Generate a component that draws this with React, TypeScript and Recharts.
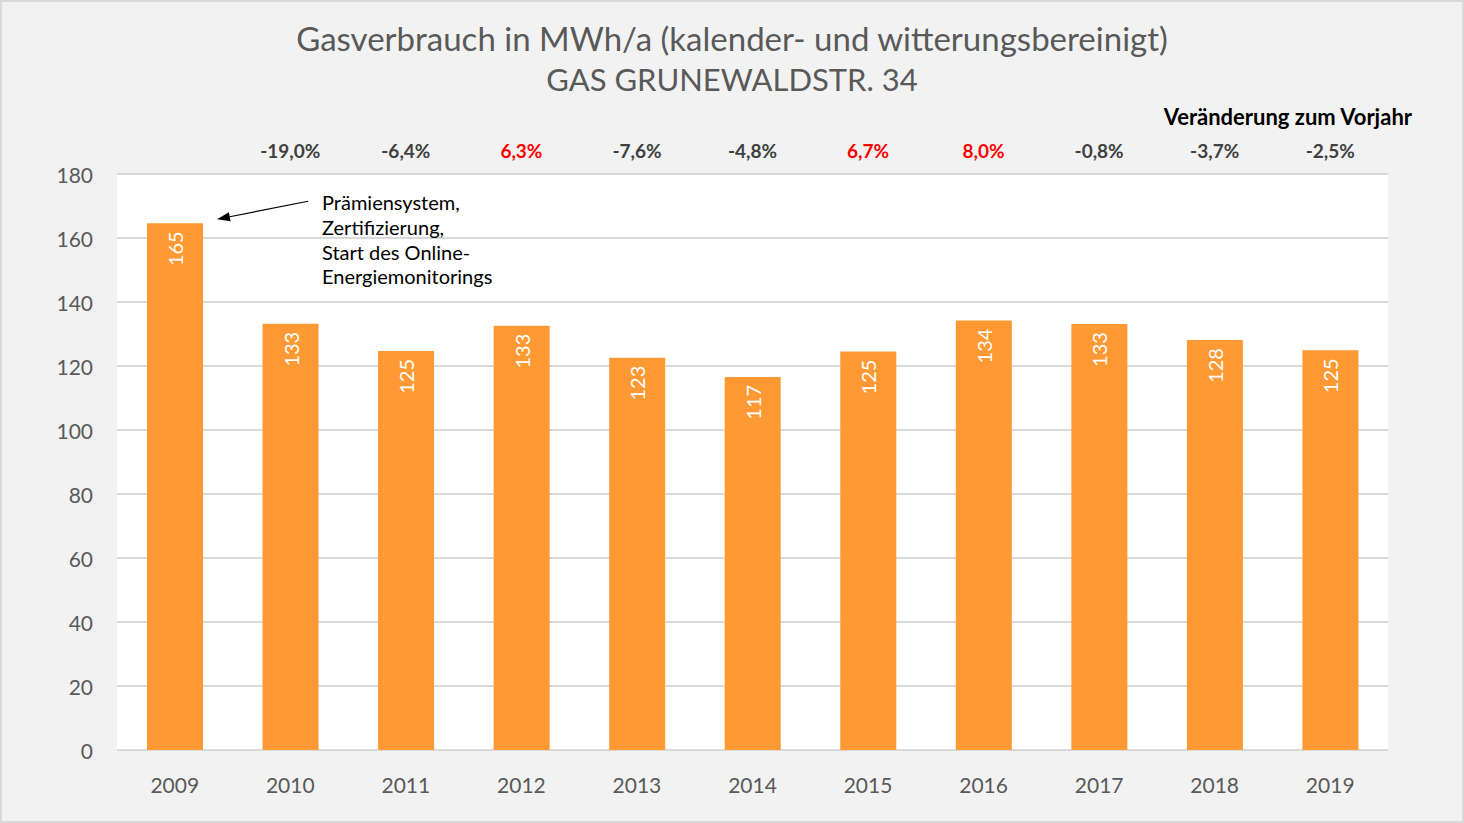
import React from 'react';
import { BarChart, Bar, XAxis, YAxis, CartesianGrid, LabelList } from 'recharts';

const years = ['2009', '2010', '2011', '2012', '2013', '2014', '2015', '2016', '2017', '2018', '2019'];
const consumption = [164.6, 133.2, 124.7, 132.6, 122.6, 116.6, 124.5, 134.2, 133.1, 128.1, 124.9];
const changes: (string | null)[] = [null, '-19,0%', '-6,4%', '6,3%', '-7,6%', '-4,8%', '6,7%', '8,0%', '-0,8%', '-3,7%', '-2,5%'];
const yTicks = [0, 20, 40, 60, 80, 100, 120, 140, 160, 180];
const titleLines = ['Gasverbrauch in MWh/a (kalender- und witterungsbereinigt)', 'GAS GRUNEWALDSTR. 34'];
const changeHeader = 'Veränderung zum Vorjahr';
const annotationLines = ['Prämiensystem,', 'Zertifizierung,', 'Start des Online-', 'Energiemonitorings'];

const data = years.map((year, i) => ({ year, value: consumption[i], change: changes[i] }));

const FONT = 'Lato, "Open Sans", sans-serif';
const AXIS_COLOR = '#595959';

const YTick = (props: any) => {
  const { x, y, payload } = props;
  return (
    <text x={x - 24} y={y} textAnchor="end" dominantBaseline="central" fill={AXIS_COLOR} fontSize={21} fontFamily={FONT}>
      {payload.value}
    </text>
  );
};

const XTick = (props: any) => {
  const { x, y, payload } = props;
  return (
    <text x={x} y={y + 34} textAnchor="middle" dominantBaseline="central" fill={AXIS_COLOR} fontSize={21} fontFamily={FONT}>
      {payload.value}
    </text>
  );
};

const ChangeTick = (props: any) => {
  const { x, y, payload, index } = props;
  const idx = typeof index === 'number' ? index : years.indexOf(payload.value);
  const c = changes[idx];
  if (!c) return null;
  const positive = !c.startsWith('-');
  return (
    <text x={x} y={y - 24} textAnchor="middle" dominantBaseline="central" fill={positive ? '#ff0000' : '#404040'} fontSize={19} fontWeight="bold" fontFamily={FONT}>
      {c}
    </text>
  );
};

const ValueLabel = (props: any) => {
  const { x, y, width, value } = props;
  const cx = x + width / 2;
  const ty = y + 8;
  return (
    <text x={cx} y={ty} transform={`rotate(-90, ${cx}, ${ty})`} textAnchor="end" dominantBaseline="central" fill="#ffffff" fontSize={20} fontFamily={FONT}>
      {Math.round(value)}
    </text>
  );
};

const AnnotationLabel = (props: any) => {
  const { x, y, width, index } = props;
  if (index !== 0) return null;
  const right = x + width;
  const tipX = right + 14;
  const tipY = y - 4;
  const tailX = right + 105;
  const tailY = y - 22;
  const dx = tipX - tailX;
  const dy = tipY - tailY;
  const len = Math.sqrt(dx * dx + dy * dy);
  const ux = dx / len;
  const uy = dy / len;
  const hl = 13;
  const hw = 4.5;
  const bx = tipX - ux * hl;
  const by = tipY - uy * hl;
  const nx = -uy;
  const ny = ux;
  const pts = `${tipX},${tipY} ${bx + nx * hw},${by + ny * hw} ${bx - nx * hw},${by - ny * hw}`;
  return (
    <g>
      <line x1={tailX} y1={tailY} x2={bx} y2={by} stroke="#000" strokeWidth={1.2} />
      <polygon points={pts} fill="#000" />
      {annotationLines.map((t, i) => (
        <text key={i} x={right + 119} y={y - 21 + i * 24.7} dominantBaseline="central" fill="#000" fontSize={20} fontFamily={FONT}>
          {t}
        </text>
      ))}
    </g>
  );
};

export default function App() {
  return (
    <div style={{ position: 'absolute', left: 0, top: 0, width: 1464, height: 823, background: '#f2f2f2', fontFamily: FONT, overflow: 'hidden' }}>
      <div style={{ position: 'absolute', left: 0, top: 18, width: 1464, textAlign: 'center', color: AXIS_COLOR, lineHeight: '41px' }}>
        <div style={{ fontSize: 33 }}>{titleLines[0]}</div>
        <div style={{ fontSize: 31 }}>{titleLines[1]}</div>
      </div>
      <div style={{ position: 'absolute', right: 52, top: 103, color: '#000', fontSize: 22, fontWeight: 'bold', lineHeight: '28px' }}>
        {changeHeader}
      </div>
      <div style={{ position: 'absolute', left: 0, top: 0 }}>
        <BarChart width={1464} height={823} data={data} margin={{ top: 130, right: 76, bottom: 0, left: 0 }}>
          <CartesianGrid vertical={false} stroke="#d9d9d9" strokeWidth={2} fill="#ffffff" />
          <XAxis xAxisId="top" orientation="top" dataKey="year" height={44} axisLine={false} tickLine={false} tickSize={0} tickMargin={0} tick={<ChangeTick />} interval={0} />
          <XAxis dataKey="year" height={73} axisLine={false} tickLine={false} tickSize={0} tickMargin={0} tick={<XTick />} interval={0} />
          <YAxis width={117} domain={[0, 180]} ticks={yTicks} axisLine={false} tickLine={false} tickSize={0} tickMargin={0} tick={<YTick />} interval={0} />
          <Bar dataKey="value" fill="#ff9933" barSize={56} isAnimationActive={false}>
            <LabelList dataKey="value" content={<ValueLabel />} />
            <LabelList dataKey="value" content={<AnnotationLabel />} />
          </Bar>
        </BarChart>
      </div>
      <div style={{ position: 'absolute', left: 0, top: 0, width: 1464, height: 823, boxSizing: 'border-box', border: '2px solid #d9d9d9', pointerEvents: 'none' }} />
    </div>
  );
}
